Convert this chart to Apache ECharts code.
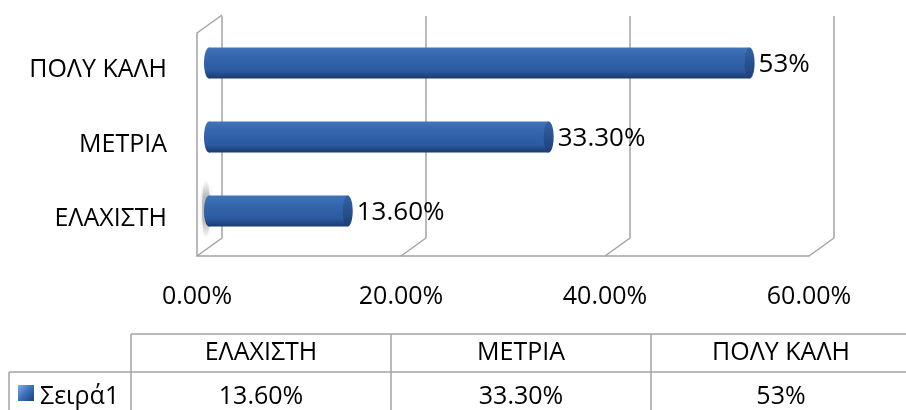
<!DOCTYPE html>
<html>
<head>
<meta charset="utf-8">
<script src="https://cdn.jsdelivr.net/npm/echarts@6/dist/echarts.min.js"></script>
<style>
html, body { margin: 0; padding: 0; background: #fff; }
#chart { width: 906px; height: 410px; }
</style>
</head>
<body>
<div id="chart"></div>
<script>
// data
const categories = ['ΕΛΑΧΙΣΤΗ', 'ΜΕΤΡΙΑ', 'ΠΟΛΥ ΚΑΛΗ'];
const values = [0.136, 0.333, 0.53];
const valueLabels = ['13.60%', '33.30%', '53%'];
const seriesName = 'Σειρά1';
const xTicks = [0, 0.2, 0.4, 0.6];

const FONT = '"Open Sans", "Noto Sans", sans-serif';
const GRID_COLOR = '#a3a3a3';
const DEPTH_X = 25, DEPTH_Y = -18; // back wall offset from front plane

const bodyGrad = new echarts.graphic.LinearGradient(0, 0, 0, 1, [
  { offset: 0, color: '#4374ba' },
  { offset: 0.3, color: '#3467ae' },
  { offset: 0.75, color: '#2b5a9e' },
  { offset: 1, color: '#1a3a6d' }
]);
const capGrad = new echarts.graphic.LinearGradient(0, 0, 0, 1, [
  { offset: 0, color: '#3363a5' },
  { offset: 1, color: '#1c4077' }
]);
const shadowGrad = new echarts.graphic.LinearGradient(0, 0, 0, 1, [
  { offset: 0, color: 'rgba(140,140,140,0)' },
  { offset: 0.3, color: 'rgba(120,120,120,0.45)' },
  { offset: 0.7, color: 'rgba(120,120,120,0.45)' },
  { offset: 1, color: 'rgba(140,140,140,0)' }
]);

const chart = echarts.init(document.getElementById('chart'));

// data table below the chart
const tableTop = 334, rowH = 38, colX0 = 131, colW = 260, legendX = 9, tableBottom = 410;
const table = [];
const lineStyle = { stroke: GRID_COLOR, lineWidth: 1.5 };
table.push({ type: 'line', shape: { x1: colX0, y1: tableTop, x2: 906, y2: tableTop }, style: lineStyle });
table.push({ type: 'line', shape: { x1: legendX, y1: tableTop + rowH, x2: 906, y2: tableTop + rowH }, style: lineStyle });
table.push({ type: 'line', shape: { x1: legendX, y1: tableTop + rowH, x2: legendX, y2: tableBottom }, style: lineStyle });
for (let k = 0; k <= categories.length; k++) {
  const x = colX0 + k * colW;
  table.push({ type: 'line', shape: { x1: x, y1: tableTop, x2: x, y2: tableBottom }, style: lineStyle });
}
categories.forEach((c, i) => {
  const cx = colX0 + colW * (i + 0.5);
  table.push({ type: 'text', x: cx, y: tableTop + 19, style: { text: c, font: '25px ' + FONT, fill: '#000', align: 'center', verticalAlign: 'middle' } });
  table.push({ type: 'text', x: cx, y: tableTop + 63, style: { text: valueLabels[i], font: '25px ' + FONT, fill: '#000', align: 'center', verticalAlign: 'middle' } });
});
table.push({
  type: 'rect', shape: { x: 18, y: 385, width: 16, height: 16 },
  style: { fill: new echarts.graphic.LinearGradient(0, 0, 1, 1, [{ offset: 0, color: '#7fb0ea' }, { offset: 0.5, color: '#3a6fb8' }, { offset: 1, color: '#1c3f78' }]) }
});
table.push({ type: 'text', x: 40, y: tableTop + 63, style: { text: seriesName, font: '25px ' + FONT, fill: '#000', align: 'left', verticalAlign: 'middle' } });

const option = {
  animation: false,
  backgroundColor: '#fff',
  grid: [
    { left: 222, top: 16, width: 612, height: 222 },   // back wall
    { left: 197, top: 33, width: 612, height: 223 },   // front plane
    { left: 209, top: 26, width: 612, height: 222 }    // bars
  ],
  xAxis: [
    {
      gridIndex: 0, type: 'value', min: 0, max: 0.6, interval: 0.2,
      axisLine: { show: false }, axisTick: { show: false }, axisLabel: { show: false },
      splitLine: { show: true, lineStyle: { color: GRID_COLOR, width: 1.5 } }
    },
    {
      gridIndex: 1, type: 'value', min: 0, max: 0.6, interval: 0.2,
      axisLine: { show: true, lineStyle: { color: GRID_COLOR, width: 1.5 } },
      axisTick: { show: false }, splitLine: { show: false },
      axisLabel: {
        margin: 28, color: '#000', fontSize: 25, fontFamily: FONT,
        formatter: v => (v * 100).toFixed(2) + '%'
      }
    },
    {
      gridIndex: 2, type: 'value', min: 0, max: 0.6, interval: 0.2, show: false
    }
  ],
  yAxis: [
    { gridIndex: 0, type: 'category', data: categories, show: false },
    {
      gridIndex: 1, type: 'category', data: categories,
      axisLine: { show: true, lineStyle: { color: GRID_COLOR, width: 1.5 } },
      axisTick: { show: false },
      axisLabel: { margin: 30, color: '#000', fontSize: 25, fontFamily: FONT }
    },
    { gridIndex: 2, type: 'category', data: categories, show: false }
  ],
  graphic: table,
  series: [
    {
      // floor and wall connectors between front plane and back wall
      type: 'custom', xAxisIndex: 1, yAxisIndex: 1, silent: true,
      data: xTicks.map(v => [v, 0]),
      renderItem(params, api) {
        const cs = params.coordSys;
        const x = api.coord([api.value(0), 0])[0];
        const yb = cs.y + cs.height;
        const children = [{
          type: 'line', shape: { x1: x, y1: yb, x2: x + DEPTH_X, y2: yb + DEPTH_Y },
          style: { stroke: GRID_COLOR, lineWidth: 1.5 }
        }];
        if (params.dataIndex === 0) {
          children.push({
            type: 'line', shape: { x1: x, y1: cs.y, x2: x + DEPTH_X, y2: cs.y + DEPTH_Y },
            style: { stroke: GRID_COLOR, lineWidth: 1.5 }
          });
        }
        return { type: 'group', children };
      }
    },
    {
      name: seriesName,
      type: 'custom', xAxisIndex: 2, yAxisIndex: 2,
      data: values.map((v, i) => [v, i]),
      renderItem(params, api) {
        const end = api.coord([api.value(0), api.value(1)]);
        const start = api.coord([0, api.value(1)]);
        const h = api.size([0, 1])[1] * 0.42;
        const rx = 5;
        const children = [];
        if (params.dataIndex === 0) {
          // soft shadow behind the lowest bar's base
          children.push({
            type: 'ellipse', shape: { cx: start[0] - 3, cy: end[1] - 2, rx: 4, ry: h / 2 + 14 },
            style: { fill: shadowGrad, shadowBlur: 6, shadowColor: 'rgba(150,150,150,0.6)' }
          });
        }
        children.push(
          { type: 'ellipse', shape: { cx: start[0], cy: end[1], rx: rx, ry: h / 2 }, style: { fill: bodyGrad } },
          { type: 'rect', shape: { x: start[0], y: end[1] - h / 2, width: end[0] - start[0], height: h }, style: { fill: bodyGrad } },
          { type: 'ellipse', shape: { cx: end[0], cy: end[1], rx: rx, ry: h / 2 }, style: { fill: capGrad } },
          {
            type: 'text', x: end[0] + rx + 4, y: end[1] + 2,
            style: { text: valueLabels[params.dataIndex], font: '26px ' + FONT, fill: '#000', align: 'left', verticalAlign: 'middle' }
          }
        );
        return { type: 'group', children };
      }
    }
  ]
};
chart.setOption(option);
</script>
</body>
</html>
